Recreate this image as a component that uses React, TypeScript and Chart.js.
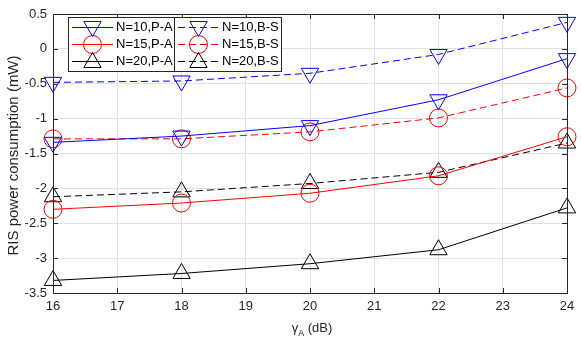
import React, { useEffect, useRef } from "react";
import { Chart, registerables } from "chart.js";
Chart.register(...registerables);

const gammaA = [16, 18, 20, 22, 24];
const n10PA = [-1.34, -1.25, -1.1, -0.73, -0.14];
const n15PA = [-2.3, -2.21, -2.07, -1.82, -1.26];
const n20PA = [-3.32, -3.22, -3.08, -2.88, -2.28];
const n10BS = [-0.48, -0.46, -0.35, -0.08, 0.38];
const n15BS = [-1.29, -1.29, -1.19, -0.99, -0.56];
const n20BS = [-2.12, -2.05, -1.93, -1.77, -1.35];
const seriesLabels = ["N=10,P-A", "N=15,P-A", "N=20,P-A", "N=10,B-S", "N=15,B-S", "N=20,B-S"];
const xTitleMain = "γ";
const xTitleSub = "A";
const xTitleUnit = " (dB)";
const yTitle = "RIS power consumption (mW)";

const FONT = "'Liberation Sans', Arial, Helvetica, sans-serif";
const BLUE = "#0000ff";
const RED = "#ff0000";
const BLACK = "#000000";
const DASH = [7, 4];

type Style = { color: string; marker: "down" | "circle" | "up"; dashed: boolean };
const styles: Style[] = [
  { color: BLUE, marker: "down", dashed: false },
  { color: RED, marker: "circle", dashed: false },
  { color: BLACK, marker: "up", dashed: false },
  { color: BLUE, marker: "down", dashed: true },
  { color: RED, marker: "circle", dashed: true },
  { color: BLACK, marker: "up", dashed: true },
];
const seriesData = [n10PA, n15PA, n20PA, n10BS, n15BS, n20BS];

function drawMarker(ctx: CanvasRenderingContext2D, s: Style, x: number, y: number) {
  ctx.save();
  ctx.setLineDash([]);
  ctx.strokeStyle = s.color;
  ctx.lineWidth = 1;
  ctx.beginPath();
  if (s.marker === "circle") {
    ctx.arc(x, y, 9, 0, Math.PI * 2);
  } else {
    const r = 10;
    const sign = s.marker === "up" ? 1 : -1;
    for (let i = 0; i < 3; i++) {
      const a = (i * 2 * Math.PI) / 3;
      const px = x + Math.sin(a) * r;
      const py = y - sign * Math.cos(a) * r;
      if (i === 0) ctx.moveTo(px, py);
      else ctx.lineTo(px, py);
    }
    ctx.closePath();
  }
  ctx.stroke();
  ctx.restore();
}

const framePlugin = {
  id: "frame",
  afterDatasetsDraw(chart: any) {
    const { ctx, chartArea: a, scales } = chart;
    ctx.save();
    ctx.setLineDash([]);
    ctx.strokeStyle = "#262626";
    ctx.lineWidth = 1;
    ctx.strokeRect(Math.round(a.left) + 0.5, Math.round(a.top) + 0.5, Math.round(a.right - a.left), Math.round(a.bottom - a.top));
    ctx.beginPath();
    const xs = scales.x;
    for (let v = 16; v <= 24; v++) {
      const px = Math.round(xs.getPixelForValue(v)) + 0.5;
      ctx.moveTo(px, a.bottom);
      ctx.lineTo(px, a.bottom - 5);
      ctx.moveTo(px, a.top);
      ctx.lineTo(px, a.top + 5);
    }
    const ys = scales.y;
    for (let v = -3.5; v <= 0.5; v += 0.5) {
      const py = Math.round(ys.getPixelForValue(v)) + 0.5;
      ctx.moveTo(a.left, py);
      ctx.lineTo(a.left + 5, py);
      ctx.moveTo(a.right, py);
      ctx.lineTo(a.right - 5, py);
    }
    ctx.stroke();

    // legend
    const L = 68, T = 17, R = 281, B = 71, D = 174;
    ctx.fillStyle = "#ffffff";
    ctx.fillRect(L, T, R - L, B - T);
    ctx.strokeStyle = "#262626";
    ctx.strokeRect(L + 0.5, T + 0.5, R - L, B - T);
    ctx.beginPath();
    ctx.moveTo(D + 0.5, T);
    ctx.lineTo(D + 0.5, B);
    ctx.stroke();
    ctx.font = `13px ${FONT}`;
    ctx.textBaseline = "middle";
    ctx.textAlign = "left";
    const rows = [27, 44, 61];
    for (let i = 0; i < 6; i++) {
      const s = styles[i];
      const col = i < 3 ? 0 : 1;
      const y = rows[i % 3] + 0.5;
      const x0 = col === 0 ? 72 : 178;
      const x1 = x0 + 41;
      ctx.save();
      ctx.strokeStyle = s.color;
      ctx.lineWidth = 1;
      ctx.setLineDash(s.dashed ? DASH : []);
      ctx.beginPath();
      ctx.moveTo(x0, y);
      ctx.lineTo(x1, y);
      ctx.stroke();
      ctx.restore();
      drawMarker(ctx, s, (x0 + x1) / 2, y + (s.marker === "down" ? -1 : s.marker === "up" ? 1 : 0));
      ctx.fillStyle = "#000000";
      ctx.fillText(seriesLabels[i], x1 + 3, y);
    }
    ctx.restore();
  },
  afterDraw(chart: any) {
    const { ctx, chartArea: a } = chart;
    ctx.save();
    ctx.fillStyle = "#262626";
    // x title
    ctx.textBaseline = "alphabetic";
    ctx.textAlign = "left";
    ctx.font = `13px ${FONT}`;
    const wMain = ctx.measureText(xTitleMain).width;
    const wUnit = ctx.measureText(xTitleUnit).width;
    ctx.font = `9px ${FONT}`;
    const wSub = ctx.measureText(xTitleSub).width;
    const total = wMain + wSub + wUnit;
    const cx = (a.left + a.right) / 2 + 2;
    let x = cx - total / 2;
    const base = 332;
    ctx.font = `13px ${FONT}`;
    ctx.fillText(xTitleMain, x, base);
    x += wMain;
    ctx.font = `9px ${FONT}`;
    ctx.fillText(xTitleSub, x, base + 4);
    x += wSub;
    ctx.font = `13px ${FONT}`;
    ctx.fillText(xTitleUnit, x, base);
    // y title
    ctx.font = `15px ${FONT}`;
    ctx.translate(14, (a.top + a.bottom) / 2 + 2);
    ctx.rotate(-Math.PI / 2);
    ctx.textAlign = "center";
    ctx.textBaseline = "middle";
    ctx.fillText(yTitle, 0, 0);
    ctx.restore();
  },
};

export default function App() {
  const ref = useRef<HTMLCanvasElement | null>(null);
  useEffect(() => {
    document.body.style.margin = "0";
    if (!ref.current) return;
    const datasets = seriesData.map((vals, i) => {
      const s = styles[i];
      return {
        label: seriesLabels[i],
        data: gammaA.map((g, j) => ({ x: g, y: vals[j] })),
        borderColor: s.color,
        backgroundColor: "transparent",
        borderWidth: 1,
        borderDash: s.dashed ? DASH : [],
        pointStyle: s.marker === "circle" ? "circle" : "triangle",
        rotation: s.marker === "down" ? 180 : 0,
        pointRadius: s.marker === "circle" ? 9 : 10,
        pointBorderWidth: 1,
        pointBorderColor: s.color,
        pointBackgroundColor: "transparent",
        tension: 0,
        clip: false as any,
      };
    });
    const chart = new Chart(ref.current, {
      type: "line",
      data: { datasets: datasets as any },
      options: {
        animation: false,
        responsive: false,
        devicePixelRatio: 1,
        layout: { padding: { top: 14, right: 14, left: 0, bottom: 0 } },
        plugins: { legend: { display: false }, tooltip: { enabled: false } },
        scales: {
          x: {
            type: "linear",
            min: 16,
            max: 24,
            afterFit: (s: any) => { s.height = 50; },
            ticks: { stepSize: 1, color: "#262626", font: { family: FONT, size: 13 }, padding: 6, maxRotation: 0, callback: (v: any) => String(v) },
            grid: { color: "#e2e2e2", drawTicks: false },
            border: { display: false },
          },
          y: {
            type: "linear",
            min: -3.5,
            max: 0.5,
            afterFit: (s: any) => { s.width = 53; },
            ticks: { stepSize: 0.5, color: "#262626", font: { family: FONT, size: 13 }, padding: 6, callback: (v: any) => String(v) },
            grid: { color: "#e2e2e2", drawTicks: false },
            border: { display: false },
          },
        },
      },
      plugins: [framePlugin],
    });
    return () => chart.destroy();
  }, []);
  return (
    <div style={{ position: "absolute", left: 0, top: 0, width: 581, height: 343, background: "#fff" }}>
      <canvas ref={ref} width={581} height={343} style={{ width: 581, height: 343, display: "block" }} />
    </div>
  );
}
